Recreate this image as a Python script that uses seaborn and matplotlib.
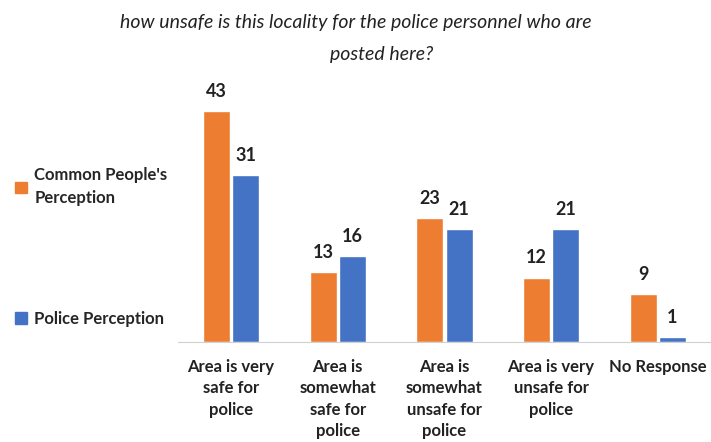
import pandas as pd
import seaborn as sns
import matplotlib.pyplot as plt
from matplotlib.patches import Patch

categories = ['Area is very\nsafe for\npolice', 'Area is\nsomewhat\nsafe for\npolice',
              'Area is\nsomewhat\nunsafe for\npolice', 'Area is very\nunsafe for\npolice',
              'No Response']
common = [43, 13, 23, 12, 9]
police = [31, 16, 21, 21, 1]
series = ["Common People's\nPerception", 'Police Perception']
colors = ['#ED7D31', '#4472C4']

df = pd.DataFrame({
    'cat': categories * 2,
    'val': common + police,
    'who': [series[0]] * 5 + [series[1]] * 5,
})

sns.set_style('white')
plt.rcParams['font.family'] = ['Lato', 'DejaVu Sans']

fig = plt.figure(figsize=(7.11, 4.42), dpi=100)
ax = fig.add_axes([0.25, 0.226, 0.75, 0.56])
sns.barplot(data=df, x='cat', y='val', hue='who', palette=colors, width=0.55,
            gap=0.08, saturation=1, ax=ax, legend=False)

for cont in ax.containers:
    ax.bar_label(cont, padding=8, fontsize=13, fontweight='bold', color='#222222')

ax.set_ylim(0, 46)
ax.set_xlim(-0.5, 4.5)
ax.set_xlabel('')
ax.set_ylabel('')
ax.set_yticks([])
for s in ['top', 'right', 'left']:
    ax.spines[s].set_visible(False)
ax.spines['bottom'].set_color('#d0d0d0')
ax.tick_params(axis='x', length=0, pad=12)
for lab in ax.get_xticklabels():
    lab.set_fontweight('bold')
    lab.set_fontsize(12)
    lab.set_color('#222222')
    lab.set_linespacing(1.42)

fig.text(0.5, 0.95, 'how unsafe is this locality for the police personnel who are',
         ha='center', va='center', fontsize=14, style='italic', color='#222222')
fig.text(0.537, 0.876, 'posted here?',
         ha='center', va='center', fontsize=14, style='italic', color='#222222')

handles = [Patch(color=c) for c in colors]
leg = fig.legend(handles, series, loc='upper left', bbox_to_anchor=(0.0, 0.655),
                 frameon=False, handlelength=0.7, handleheight=0.7, handletextpad=0.45,
                 labelspacing=6.3, prop={'weight': 'bold', 'size': 12})
for t in leg.get_texts():
    t.set_linespacing(1.5)

fig.savefig('out.png', dpi=100)
